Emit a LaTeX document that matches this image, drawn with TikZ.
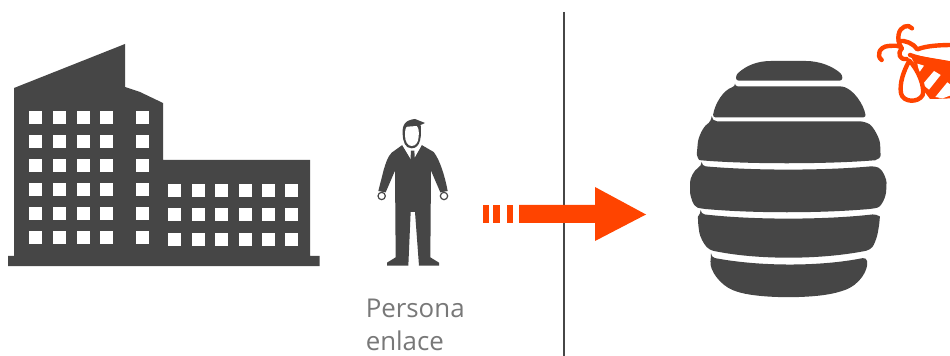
\documentclass[tikz,border=0pt]{standalone}
\usepackage{fontspec}
\setmainfont{Open Sans}
\definecolor{icon}{RGB}{70,70,70}
\definecolor{flame}{RGB}{255,68,0}
\definecolor{rule}{RGB}{70,70,70}
\definecolor{caption}{RGB}{120,120,120}
\tikzset{
  darkshape/.style={fill=icon,draw=none},
  win/.style={fill=white,draw=none},
  hot/.style={fill=flame,draw=none},
  beeline/.style={draw=flame,line width=3.3pt,line cap=round,line join=round},
  zoomed/.style={scale=1/3},
}
\begin{document}
\begin{tikzpicture}[x=0.75pt,y=-0.75pt]
\useasboundingbox (0,0) rectangle (950,356);
\fill[white] (0,0) rectangle (950,356);
% building
\fill[darkshape] (14,88) -- (125,44) -- (125,87) -- (140,92) -- (163,103) -- (163,160) -- (310,160) -- (310,256) -- (319.5,256) -- (319.5,266) -- (8,266) -- (8,256) -- (14,256) -- cycle;
\foreach \xa in {29,53,77,100,136}
  \foreach \ya in {111,135,159,183,207,231}
    \fill[win] (\xa,\ya) rectangle ++(13,13);
\foreach \xa in {168,192,215,239,262,285}
  \foreach \ya in {184,208,233}
    \fill[win] (\xa,\ya) rectangle ++(13,13);
% person
\begin{scope}[shift={(365,110)},zoomed]
  \fill[darkshape] (112,105) -- (80,128) .. controls (68,140) and (62,160) .. (56,180) -- (40,243) -- (62,247) -- (90,182) -- (92,442) -- (66,458) -- (66,467) -- (130,467) -- (137,306) -- (150,306) -- (162,467) -- (222,467) -- (222,458) -- (196,442) -- (198,182) -- (226,247) -- (248,243) .. controls (240,200) and (225,150) .. (206,126) -- (170,105) -- (142,155) -- cycle;
  \fill[white] (112,105) -- (142,155) -- (170,105) -- cycle;
  \fill[darkshape] (138,122) -- (148,122) -- (150,155) -- (143,160) -- (136,155) -- cycle;
  \fill[darkshape] (113,72) .. controls (111,45) and (120,30) .. (150,27) -- (180,39) -- (167,45) .. controls (170,75) and (168,115) .. (140,115) .. controls (120,115) and (114,95) .. (113,72) -- cycle;
  \fill[white] (120,75) .. controls (120,60) and (122,50) .. (128,50) -- (155,48) .. controls (162,55) and (162,65) .. (161,80) .. controls (160,97) and (152,108) .. (140,108) .. controls (128,108) and (120,95) .. (120,75) -- cycle;
  \filldraw[fill=white,draw=icon,line width=0.9pt] (50,258) circle (11);
  \filldraw[fill=white,draw=icon,line width=0.9pt] (237,258) circle (11);
\end{scope}
\node[text=caption,font=\fontsize{19.4}{24.5}\selectfont,align=left,anchor=north west,inner sep=0pt] (label) at (365.5,299) {Persona\\enlace};
% divider
\coordinate (ruletop) at (563.5,12);
\coordinate (rulebottom) at (563.5,356);
\draw[rule,line width=1.5pt] (ruletop) -- (rulebottom);
% arrow
\fill[hot] (483,205) rectangle (489,223);
\fill[hot] (493,205) rectangle (500,223);
\fill[hot] (507,205) rectangle (513,223);
\fill[hot] (519,205) -- (595,205) -- (595,187) -- (646,214.5) -- (595,241) -- (595,223) -- (519,223) -- cycle;
% hive
\begin{scope}[shift={(670,10)},zoomed]
  \fill[darkshape,rounded corners=2pt] (198,212) -- (198,195) .. controls (230,165) and (265,153) .. (310,153) -- (400,153) .. controls (450,153) and (490,170) .. (517,195) -- (517,212) -- cycle;
  \fill[darkshape,rounded corners=2pt] (195,229) -- (516,229) .. controls (550,240) and (580,280) .. (588,322) -- (128,322) .. controls (135,280) and (160,240) .. (195,229) -- cycle;
  \fill[darkshape,rounded corners=4pt] (125,334) -- (585,334) .. controls (610,350) and (630,385) .. (631,420) .. controls (632,440) and (625,450) .. (600,452) .. controls (450,462) and (250,462) .. (105,452) .. controls (85,450) and (80,435) .. (82,415) .. controls (85,380) and (100,350) .. (125,334) -- cycle;
  \fill[darkshape,rounded corners=3pt] (95,468) .. controls (250,482) and (460,482) .. (615,468) .. controls (640,480) and (650,510) .. (649,530) .. controls (648,560) and (635,590) .. (610,596) .. controls (450,610) and (250,610) .. (95,596) .. controls (70,590) and (60,560) .. (60,530) .. controls (60,505) and (72,480) .. (95,468) -- cycle;
  \fill[darkshape,rounded corners=3pt] (92,612) .. controls (250,630) and (460,630) .. (620,612) .. controls (630,620) and (628,640) .. (625,660) .. controls (620,685) and (612,705) .. (600,720) .. controls (450,750) and (260,750) .. (118,720) .. controls (100,700) and (90,680) .. (86,655) .. controls (84,635) and (84,620) .. (92,612) -- cycle;
  \fill[darkshape,rounded corners=3pt] (123,742) .. controls (270,770) and (450,770) .. (590,742) .. controls (595,780) and (570,825) .. (510,845) .. controls (430,866) and (280,866) .. (200,845) .. controls (150,825) and (118,780) .. (123,742) -- cycle;
\end{scope}
% bee
\begin{scope}[shift={(860,15)},zoomed]
  \clip (0,0) rectangle (270,300);
  \fill[hot] (150,118) -- (280,140) -- (280,250) -- (210,252) -- (190,225) -- (170,160) -- cycle;
  \fill[white] (172,146) -- (192,152) -- (178,172) -- cycle;
  \fill[white] (188,208) -- (222,168) -- (242,180) -- (207,224) -- cycle;
  \fill[white] (226,246) -- (262,202) -- (280,215) -- (280,238) -- (248,250) -- cycle;
  \draw[beeline] (156,40) .. controls (145,25) and (120,35) .. (116,58) .. controls (113,72) and (116,85) .. (125,100);
  \draw[beeline] (65,135) .. controls (48,122) and (58,95) .. (85,93) .. controls (105,92) and (118,90) .. (125,100);
  \draw[beeline] (116,78) .. controls (135,75) and (160,85) .. (172,103) .. controls (200,92) and (240,90) .. (280,90);
  \draw[beeline] (125,100) .. controls (112,115) and (118,135) .. (140,132);
  \draw[beeline] (150,120) .. controls (190,135) and (240,140) .. (280,148);
  \draw[beeline] (148,137) .. controls (130,170) and (118,205) .. (123,235) .. controls (128,262) and (175,265) .. (188,240) .. controls (195,215) and (175,165) .. (148,137) -- cycle;
\end{scope}
\end{tikzpicture}
\end{document}
